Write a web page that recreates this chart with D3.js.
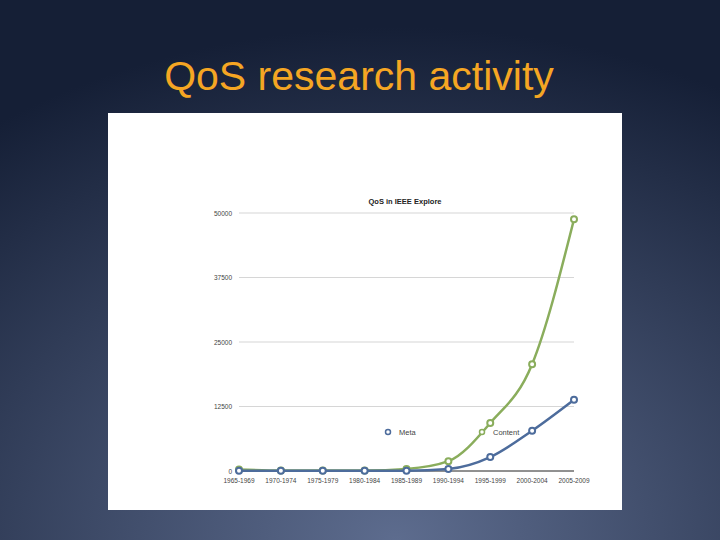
<!DOCTYPE html>
<html><head><meta charset="utf-8">
<script src="https://cdn.jsdelivr.net/npm/d3@7"></script>
<style>body{margin:0;overflow:hidden}</style>
</head><body>
<script>
const categories=["1965-1969","1970-1974","1975-1979","1980-1984","1985-1989","1990-1994","1995-1999","2000-2004","2005-2009"];
const contentValues=[300,100,100,100,400,1900,9300,20700,48800];
const metaValues=[50,50,50,50,50,400,2700,7800,13800];
const yTicks=[0,12500,25000,37500,50000];

const W=720,H=540;
const svg=d3.select("body").append("svg").attr("width",W).attr("height",H);
const defs=svg.append("defs");
const g=defs.append("radialGradient").attr("id","bg").attr("cx","55%").attr("cy","100%").attr("r","95%");
g.append("stop").attr("offset","0%").attr("stop-color","#5d6c8e");
g.append("stop").attr("offset","100%").attr("stop-color","#151f36");
svg.append("rect").attr("width",W).attr("height",H).attr("fill","url(#bg)");
svg.append("text").attr("x",359).attr("y",90).attr("text-anchor","middle")
  .attr("font-family","Liberation Sans, Arial, sans-serif").attr("font-size",41).attr("fill","#f5a623").text("QoS research activity");
svg.append("rect").attr("x",108).attr("y",113).attr("width",514).attr("height",397).attr("fill","#fff");

const x=d3.scalePoint().domain(categories).range([239,574]);
const y=d3.scaleLinear().domain([0,50000]).range([471,213]);
const font="Liberation Sans, Arial, sans-serif";
svg.append("text").attr("x",405).attr("y",204).attr("text-anchor","middle").attr("font-family",font)
  .attr("font-size",7.5).attr("font-weight","bold").attr("fill","#222").text("QoS in IEEE Explore");

const grid=svg.append("g");
yTicks.forEach(t=>{
  grid.append("line").attr("x1",239).attr("x2",574).attr("y1",y(t)).attr("y2",y(t))
    .attr("stroke",t===0?"#222":"#bbb").attr("stroke-width",t===0?1:0.6);
  grid.append("text").attr("x",232).attr("y",y(t)+2.5).attr("text-anchor","end").attr("font-family",font)
    .attr("font-size",6.5).attr("fill","#444").text(t);
});
categories.forEach(c=>{
  svg.append("text").attr("x",x(c)).attr("y",483).attr("text-anchor","middle").attr("font-family",font)
    .attr("font-size",6.5).attr("fill","#444").text(c);
});

function series(vals,color){
  const line=d3.line().x((d,i)=>x(categories[i])).y(d=>y(d)).curve(d3.curveMonotoneX);
  svg.append("path").attr("d",line(vals)).attr("fill","none").attr("stroke",color).attr("stroke-width",2.5);
  svg.selectAll(null).data(vals).enter().append("circle").attr("cx",(d,i)=>x(categories[i])).attr("cy",d=>y(d))
    .attr("r",3).attr("fill","#fff").attr("stroke",color).attr("stroke-width",2);
}
series(contentValues,"#8aad5c");
series(metaValues,"#4d6c9c");

[["Meta","#4d6c9c",388],["Content","#8aad5c",482]].forEach(([n,c,lx])=>{
  svg.append("circle").attr("cx",lx).attr("cy",432).attr("r",2.5).attr("fill","#fff").attr("stroke",c).attr("stroke-width",1.5);
  svg.append("text").attr("x",lx+11).attr("y",435).attr("font-family",font).attr("font-size",7.5).attr("fill","#444").text(n);
});
</script>
</body></html>
